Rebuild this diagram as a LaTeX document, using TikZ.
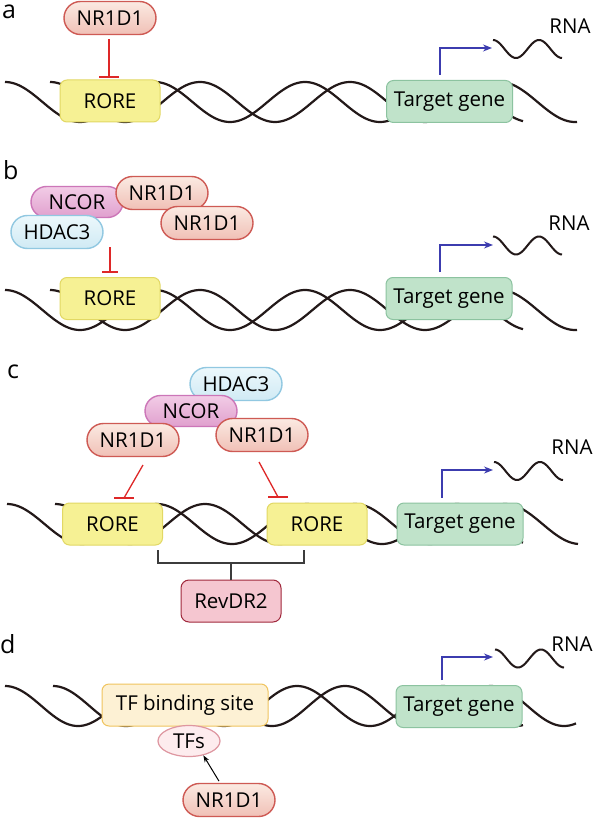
\documentclass[tikz,border=0pt]{standalone}
\usepackage{fontspec}
\setmainfont{Open Sans}
\usetikzlibrary{shapes.misc,shapes.geometric,arrows.meta}
\definecolor{dnac}{RGB}{35,25,25}
\definecolor{nrtop}{RGB}{251,234,226}
\definecolor{nrbot}{RGB}{240,192,182}
\definecolor{nrdraw}{RGB}{206,90,84}
\definecolor{nctop}{RGB}{242,204,230}
\definecolor{ncbot}{RGB}{224,160,206}
\definecolor{ncdraw}{RGB}{204,118,184}
\definecolor{hdtop}{RGB}{236,248,252}
\definecolor{hdbot}{RGB}{208,234,244}
\definecolor{hddraw}{RGB}{145,200,225}
\definecolor{rofill}{RGB}{246,241,148}
\definecolor{rodraw}{RGB}{226,216,100}
\definecolor{tgfill}{RGB}{192,227,202}
\definecolor{tgdraw}{RGB}{140,195,160}
\definecolor{tffill}{RGB}{253,241,212}
\definecolor{tfdraw}{RGB}{240,196,95}
\definecolor{tfsfill}{RGB}{253,236,238}
\definecolor{tfsdraw}{RGB}{222,150,160}
\definecolor{rvfill}{RGB}{245,198,208}
\definecolor{rvdraw}{RGB}{160,40,60}
\definecolor{inhib}{RGB}{222,40,40}
\definecolor{blu}{RGB}{60,60,175}
\definecolor{brk}{RGB}{60,60,60}
\tikzset{
  body/.style={font=\fontsize{20.5}{24}\selectfont},
  panellabel/.style={font=\fontsize{25}{28}\selectfont, anchor=base west, inner sep=0pt},
  pill/.style={rounded rectangle, minimum width=92pt, minimum height=33pt, inner sep=0pt, line width=1.4pt, body},
  nrp/.style={pill, draw=nrdraw, top color=nrtop, bottom color=nrbot},
  ncp/.style={pill, draw=ncdraw, top color=nctop, bottom color=ncbot, minimum height=31pt},
  hdp/.style={pill, draw=hddraw, top color=hdtop, bottom color=hdbot},
  site/.style={rectangle, rounded corners=7pt, minimum height=42pt, inner sep=0pt, line width=1pt, body},
  rore/.style={site, fill=rofill, draw=rodraw, minimum width=100pt},
  tgene/.style={site, fill=tgfill, draw=tgdraw, minimum width=126pt},
  dna/.style={draw=dnac, line width=2.2pt},
  rna/.style={draw=dnac, line width=2pt},
  inh/.style={draw=inhib, line width=1.3pt},
  bluarrow/.style={draw=blu, line width=1.3pt, -{Stealth[length=9pt,width=7pt]}},
  rnalabel/.style={body, inner sep=0pt},
}
\begin{document}
\begin{tikzpicture}[x=1pt,y=-1pt]
\useasboundingbox (0,0) rectangle (597,818);
\fill[white] (0,0) rectangle (597,818);

% ================= panel a =================
\node[panellabel] (la) at (2,19) {a};
\draw[dna] plot[domain=5:523,samples=260] (\x,{102-20*cos(2.4*(\x-5))});
\draw[dna] plot[domain=50:577,samples=260] (\x,{102-20*cos(2.4*(\x-50))});
\draw[rna] plot[domain=0:69,samples=80] ({493+\x},{49-9*cos(7.826*\x)});
\node[nrp] (nra) at (110,18) {NR1D1};
\node[rore] (rorea) at (110,101) {RORE};
\node[tgene] (tga) at (449.5,101.5) {Target gene};
\node[rnalabel] (rnaa) at (570,26) {RNA};
\coordinate (ia) at (109,77);
\coordinate (ra) at (492,48);
\draw[inh] ([shift={(-1pt,-4pt)}]nra.south) -- (ia);
\draw[inh] ([xshift=-10pt]ia) -- ([xshift=10pt]ia);
\draw[bluarrow, shorten <=5pt] ([xshift=-9.5pt]tga.north) |- (ra);

% ================= panel b =================
\node[panellabel] (lb) at (3,180) {b};
\draw[dna] plot[domain=5:523,samples=260] (\x,{310-20*cos(2.4*(\x-5))});
\draw[dna] plot[domain=50:577,samples=260] (\x,{310-20*cos(2.4*(\x-50))});
\draw[rna] plot[domain=0:69,samples=80] ({493+\x},{245.5-9*cos(7.826*\x)});
\node[ncp] (ncb) at (77,202) {NCOR};
\node[hdp] (hdb) at (57,232) {HDAC3};
\node[nrp] (nrb1) at (162,193) {NR1D1};
\node[nrp] (nrb2) at (207,223) {NR1D1};
\node[rore] (roreb) at (110,298.5) {RORE};
\node[tgene] (tgb) at (449,298.5) {Target gene};
\node[rnalabel] (rnab) at (569,223) {RNA};
\coordinate (sb) at (110,247);
\coordinate (ib) at (110,272);
\coordinate (rb) at (493,245);
\draw[inh] (sb) -- (ib);
\draw[inh] ([xshift=-8pt]ib) -- ([xshift=8pt]ib);
\draw[bluarrow, shorten <=5pt] ([xshift=-9pt]tgb.north) |- (rb);

% ================= panel c =================
\node[panellabel] (lc) at (7,378) {c};
\draw[dna] plot[domain=7:523,samples=260] (\x,{524-20*cos(2.4*(\x-7))});
\draw[dna] plot[domain=55:578,samples=260] (\x,{524-20*cos(2.4*(\x-55))});
\draw[rna] plot[domain=0:69,samples=80] ({494+\x},{471-9*cos(7.826*\x)});
\node[hdp] (hdc) at (236,384) {HDAC3};
\node[ncp] (ncc) at (191,411) {NCOR};
\node[nrp] (nrc1) at (133,440) {NR1D1};
\node[nrp] (nrc2) at (262,435) {NR1D1};
\node[rore] (rorec1) at (112.5,524) {RORE};
\node[rore] (rorec2) at (317,524) {RORE};
\node[tgene] (tgc) at (460,524) {Target gene};
\node[rnalabel] (rnac) at (572,447) {RNA};
\node[site, fill=rvfill, draw=rvdraw, minimum width=100pt, rounded corners=8pt] (rev) at (231,601) {RevDR2};
\coordinate (c1s) at (143,465);
\coordinate (c1e) at (124,498);
\coordinate (c2s) at (259,462);
\coordinate (c2e) at (278,497);
\coordinate (rc) at (493,470);
\draw[inh] (c1s) -- (c1e);
\draw[inh] ([xshift=-10pt]c1e) -- ([xshift=10pt]c1e);
\draw[inh] (c2s) -- (c2e);
\draw[inh] ([xshift=-10pt]c2e) -- ([xshift=10pt]c2e);
\draw[bluarrow, shorten <=5pt] ([xshift=-18pt]tgc.north) |- (rc);
\coordinate (bl) at (158,550);
\coordinate (br) at (304,550);
\coordinate (bm) at (231,563);
\draw[brk, line width=1.2pt] (bl) -- (158,563) -- (304,563) -- (br);
\draw[brk, line width=1.2pt] (bm) -- (rev.north);

% ================= panel d =================
\node[panellabel] (ld) at (0,653) {d};
\draw[dna] plot[domain=5:523,samples=260] (\x,{706-20*cos(2.4658*(\x-5))});
\draw[dna] plot[domain=53:576,samples=260] (\x,{706-20*cos(2.4658*(\x-53))});
\draw[rna] plot[domain=0:69,samples=80] ({495+\x},{658.5-9*cos(7.826*\x)});
\node[site, fill=tffill, draw=tfdraw, minimum width=166pt] (tfsite) at (185,705) {TF binding site};
\node[ellipse, fill=tfsfill, draw=tfsdraw, line width=1.2pt, minimum width=62pt, minimum height=31pt, inner sep=0pt, body] (tfs) at (189,741) {TFs};
\node[nrp] (nrd) at (229,800) {NR1D1};
\node[tgene] (tgd) at (459,706.5) {Target gene};
\node[rnalabel] (rnad) at (572,644) {RNA};
\coordinate (rd) at (493,657);
\draw[bluarrow, shorten <=5pt] ([xshift=-17pt]tgd.north) |- (rd);
\draw[black, line width=1pt, -{Stealth[length=7pt,width=5pt]}, shorten <=2pt] ([xshift=-9pt]nrd.north) -- (tfs.-45);
\end{tikzpicture}
\end{document}
